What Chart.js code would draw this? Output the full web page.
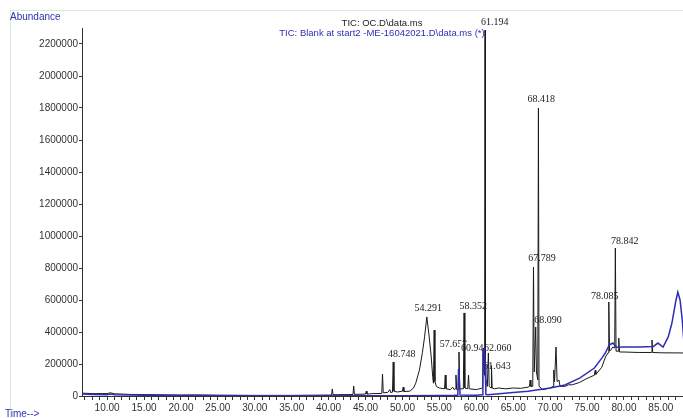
<!DOCTYPE html>
<html>
<head>
<meta charset="utf-8">
<script src="https://cdn.jsdelivr.net/npm/chart.js@4"></script>
<style>
  body { margin: 0; background: #fff; }
  canvas { display: block; }
</style>
</head>
<body>
<canvas class="myChart" width="683" height="418"></canvas>
<script>
// sample run (OC.D) - retention time in minutes, abundance
const sampleTimes = [
  6.6, 8, 10, 10.4, 11, 13, 15, 20, 22, 25, 30, 35, 40, 40.4, 40.5, 40.6,
  43.3, 43.4, 43.5, 45, 45.1, 45.2, 46, 47.2, 47.3, 47.4, 48, 48.3, 48.4,
  48.65, 48.75, 48.85, 49.3, 50, 50.1, 50.2, 51, 51.5, 51.8, 52.3, 52.7, 53,
  53.3, 53.6, 53.9, 54.1, 54.2, 54.3, 54.4, 54.6, 55, 55.7, 55.8, 55.9, 56.5,
  56.8, 57, 57.15, 57.25, 57.35, 57.55, 57.66, 57.75, 58.25, 58.35, 58.45,
  58.85, 58.95, 59.05, 60, 60.85, 60.95, 61.05, 61.13, 61.19, 61.25, 61.5, 61.64,
  61.75, 62.0, 62.06, 62.15, 62.5, 63, 64, 65, 66, 67, 67.2, 67.3, 67.4,
  67.65, 67.75, 67.85, 67.95, 68.05, 68.15, 68.33, 68.42, 68.5, 69, 69.5, 70,
  70.4, 70.5, 70.6, 70.8, 70.95, 71.2, 71.35, 72, 72.5, 73, 74, 75, 76, 76.1,
  76.2, 77, 77.5, 77.85, 77.95, 78.05, 78.2, 78.5, 78.75, 78.84, 78.93, 79.2,
  79.3, 79.4, 80, 82, 83.7, 83.8, 83.9, 85, 88
];
const sampleAbundance = [
  18000, 15000, 15000, 20000, 14000, 10000, 9000, 6000, 7000, 5000, 4000, 4000, 6000, 6000, 44000, 8000,
  9000, 62000, 10000, 12000, 30000, 12000, 15000, 16000, 137000, 20000, 22000, 40000, 22000,
  24000, 212000, 30000, 25000, 30000, 55000, 28000, 30000, 50000, 80000, 162000, 270000, 370000,
  494000, 380000, 244000, 120000, 80000, 412000, 90000, 60000, 50000, 45000, 131000, 45000, 40000,
  55000, 40000, 45000, 131000, 40000, 42000, 275000, 45000, 45000, 519000, 50000,
  45000, 131000, 45000, 40000, 50000, 300000, 150000, 130000, 2287500, 110000, 60000, 269000,
  60000, 50000, 190000, 50000, 45000, 50000, 45000, 50000, 48000, 55000, 60000, 100000, 60000,
  60000, 806000, 150000, 150000, 431000, 150000, 100000, 1800000, 60000, 40000, 45000, 50000,
  60000, 162000, 90000, 306000, 90000, 100000, 60000, 60000, 70000, 70000, 85000, 110000, 130000, 160000,
  135000, 180000, 244000, 270000, 587500, 280000, 287000, 306000, 300000, 925000, 280000, 280000,
  362000, 275000, 275000, 272000, 272000, 350000, 272000, 270000, 269000
];

// blank run
const blankTimes = [
  6.6, 8, 10, 10.5, 11, 15, 20, 30, 40, 50, 55, 57, 57.5, 57.6, 57.7, 57.8,
  60, 60.8, 60.9, 61.1, 61.2, 61.3, 61.5, 62, 65, 67, 70, 72, 74, 76, 77, 77.5,
  78, 78.5, 79, 80, 82, 84, 84.6, 85.3, 86, 86.5, 87, 87.3, 87.6, 87.9, 88.1
];
const blankAbundance = [
  12000, 10000, 8000, 12000, 8000, 5000, 3000, 2000, 2000, 2000, 3000, 4000, 5000, 170000, 120000, 6000,
  5000, 8000, 290000, 300000, 200000, 10000, 8000, 10000, 22000, 30000, 50000, 69000, 112000, 175000, 237000, 270000,
  319000, 331000, 305000, 306000, 306000, 310000, 331000, 306000, 369000, 456000, 587500, 650000, 600000, 475000, 350000
];

// peak labels, anchored at (time, abundance)
const peakNames = ['48.748', '54.291', '57.659', '58.352', '60.949', '62.060', '61.643', '61.194', '67.789', '68.090', '68.418', '78.085', '78.842'];
const peakLabelTimes = [49.9, 53.5, 56.9, 59.6, 59.8, 62.9, 62.8, 62.5, 68.9, 69.7, 68.8, 77.4, 80.1];
const peakLabelHeights = [262500, 550000, 325000, 562500, 300000, 300000, 187500, 2337500, 862500, 475000, 1856000, 625000, 968750];

const xTickValues = [10, 15, 20, 25, 30, 35, 40, 45, 50, 55, 60, 65, 70, 75, 80, 85];
const yTickValues = [0, 200000, 400000, 600000, 800000, 1000000, 1200000, 1400000, 1600000, 1800000, 2000000, 2200000];
const titleLines = ['TIC: OC.D\\data.ms', 'TIC: Blank at start2 -ME-16042021.D\\data.ms (*)'];

const blue = '#2f2fb4';
const ink = '#222';

function toPoints (xs, ys) {
  return xs.map((x, i) => ({x: x, y: ys[i]}));
}

const framePlugin = {
  id: 'frame',
  beforeDraw (chart) {
    const ctx = chart.ctx;
    ctx.save();
    ctx.fillStyle = '#fff';
    ctx.fillRect(0, 0, chart.width, chart.height);
    ctx.strokeStyle = '#d4ecd4';
    ctx.lineWidth = 1;
    ctx.beginPath();
    ctx.moveTo(10.5, chart.height);
    ctx.lineTo(10.5, 10.5);
    ctx.lineTo(chart.width, 10.5);
    ctx.stroke();
    ctx.restore();
  },
  // peak labels go under the traces, like the original printout
  beforeDatasetsDraw (chart) {
    const ctx = chart.ctx;
    const xs = chart.scales.x;
    const ys = chart.scales.y;
    ctx.save();
    ctx.textBaseline = 'middle';
    ctx.textAlign = 'center';
    ctx.font = '10px "Liberation Serif", "Times New Roman", serif';
    for (let i = 0; i < peakNames.length; i++) {
      const px = xs.getPixelForValue(peakLabelTimes[i]);
      const py = ys.getPixelForValue(peakLabelHeights[i]);
      const w = ctx.measureText(peakNames[i]).width;
      ctx.fillStyle = '#fff';
      ctx.fillRect(px - w / 2 - 1, py - 6, w + 2, 12);
      ctx.fillStyle = ink;
      ctx.fillText(peakNames[i], px, py);
    }
    ctx.restore();
  }
};

const textPlugin = {
  id: 'texts',
  afterDraw (chart) {
    const ctx = chart.ctx;
    ctx.save();
    ctx.textBaseline = 'middle';
    ctx.font = '10px Arial, "Liberation Sans", sans-serif';
    ctx.textAlign = 'left';
    ctx.fillStyle = blue;
    ctx.fillText('Abundance', 10, 17);
    ctx.fillText('Time-->', 5, 414);

    ctx.font = '9.5px Arial, "Liberation Sans", sans-serif';
    ctx.textAlign = 'center';
    ctx.fillStyle = ink;
    ctx.fillText(titleLines[0], 382, 23);
    ctx.fillStyle = blue;
    ctx.fillText(titleLines[1], 382, 33);
    ctx.restore();
  }
};

function displayChart () {
  const ctx = document.querySelector('.myChart');

  new Chart(ctx, {
    type: 'line',
    data: {
      datasets: [{
        label: titleLines[0],
        data: toPoints(sampleTimes, sampleAbundance),
        borderColor: '#1a1a1a',
        borderWidth: 1,
        pointRadius: 0,
        order: 1
      }, {
        label: titleLines[1],
        data: toPoints(blankTimes, blankAbundance),
        borderColor: blue,
        borderWidth: 1.5,
        pointRadius: 0,
        order: 0
      }]
    },
    options: {
      responsive: false,
      animation: false,
      layout: { padding: { top: 28, right: 0, left: 0, bottom: 0 } },
      plugins: {
        legend: { display: false },
        tooltip: { enabled: false }
      },
      scales: {
        x: {
          type: 'linear',
          min: 6.6,
          max: 88,
          afterBuildTicks (scale) {
            const ticks = [];
            for (let v = 7; v <= 87; v++) ticks.push({value: v});
            scale.ticks = ticks;
          },
          afterFit (scale) { scale.height = 22; },
          ticks: {
            autoSkip: false,
            maxRotation: 0,
            padding: 2,
            color: '#333',
            font: { size: 10, family: 'Arial, "Liberation Sans", sans-serif' },
            callback: (v) => xTickValues.includes(v) ? v.toFixed(2) : ''
          },
          grid: { drawOnChartArea: false, tickLength: 4, color: '#333' },
          border: { color: '#333' }
        },
        y: {
          min: 0,
          max: 2300000,
          afterBuildTicks (scale) {
            scale.ticks = yTickValues.map(v => ({value: v}));
          },
          afterFit (scale) { scale.width = 82; },
          ticks: {
            padding: 1,
            color: '#333',
            font: { size: 10, family: 'Arial, "Liberation Sans", sans-serif' },
            callback: (v) => String(v)
          },
          grid: { drawOnChartArea: false, tickLength: 3, color: '#333' },
          border: { color: '#333' }
        }
      }
    },
    plugins: [framePlugin, textPlugin]
  });
}

displayChart();
</script>
</body>
</html>
